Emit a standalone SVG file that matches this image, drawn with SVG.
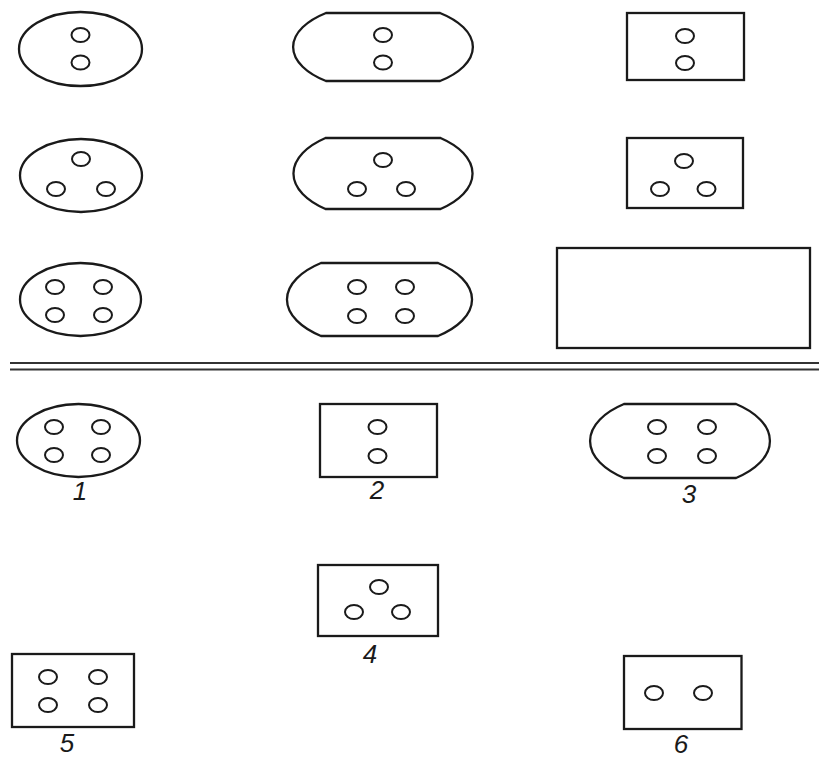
<svg xmlns="http://www.w3.org/2000/svg" width="819" height="758" viewBox="0 0 819 758">
<style>
.o{fill:none;stroke:#1a1a1a;stroke-width:2.3}
.h{fill:none;stroke:#1a1a1a;stroke-width:2}
.sep{stroke:#333;stroke-width:2}
.lbl{font-family:"Liberation Sans","DejaVu Sans",sans-serif;font-style:italic;font-size:26px;fill:#1a1a1a;text-anchor:middle}
</style>
<rect width="819" height="758" fill="#fff"/>
<defs>
<ellipse id="hole" class="h" cx="0" cy="0" rx="9" ry="7"/>
</defs>
<!-- Row 1 -->
<g id="r1-circle">
<ellipse class="o" cx="80.5" cy="49" rx="61.5" ry="37"/>
<use href="#hole" x="80.5" y="35"/>
<use href="#hole" x="80.5" y="62.5"/>
</g>
<g id="r1-oval">
<path class="o" d="M326,13 H440 A90,44 0 0 1 440,81 H326 A90,44 0 0 1 326,13 Z"/>
<use href="#hole" x="383" y="35"/>
<use href="#hole" x="383" y="62.5"/>
</g>
<g id="r1-square">
<rect class="o" x="627" y="13" width="117" height="67"/>
<use href="#hole" x="685" y="36"/>
<use href="#hole" x="685" y="63"/>
</g>
<!-- Row 2 -->
<g id="r2-circle">
<ellipse class="o" cx="81" cy="175.5" rx="61" ry="36.5"/>
<use href="#hole" x="81" y="159"/>
<use href="#hole" x="56" y="189"/>
<use href="#hole" x="106" y="189"/>
</g>
<g id="r2-oval">
<path class="o" d="M325.5,138 H440.5 A89.5,46.3 0 0 1 440.5,209 H325.5 A89.5,46.3 0 0 1 325.5,138 Z"/>
<use href="#hole" x="383" y="160"/>
<use href="#hole" x="357" y="189"/>
<use href="#hole" x="406" y="189"/>
</g>
<g id="r2-square">
<rect class="o" x="627" y="138" width="116" height="70"/>
<use href="#hole" x="684" y="161"/>
<use href="#hole" x="660" y="189"/>
<use href="#hole" x="706.5" y="189"/>
</g>
<!-- Row 3 -->
<g id="r3-circle">
<ellipse class="o" cx="80.5" cy="299.5" rx="60.5" ry="36.5"/>
<use href="#hole" x="55" y="287"/>
<use href="#hole" x="103" y="287"/>
<use href="#hole" x="55" y="315"/>
<use href="#hole" x="103" y="315"/>
</g>
<g id="r3-oval">
<path class="o" d="M321,263 H438 A92.5,47.1 0 0 1 438,336 H321 A92.5,47.1 0 0 1 321,263 Z"/>
<use href="#hole" x="357" y="287"/>
<use href="#hole" x="405" y="287"/>
<use href="#hole" x="357" y="316"/>
<use href="#hole" x="405" y="316"/>
</g>
<g id="r3-rect">
<rect class="o" x="557" y="248" width="253" height="100"/>
</g>
<!-- Separator -->
<g id="connectors">
<line class="sep" x1="10" y1="363" x2="819" y2="363"/>
<line class="sep" x1="10" y1="369.5" x2="819" y2="369.5"/>
</g>
<!-- Bottom part -->
<g id="n1">
<ellipse class="o" cx="78.5" cy="440.5" rx="61.5" ry="36.5"/>
<use href="#hole" x="54" y="427"/>
<use href="#hole" x="101" y="427"/>
<use href="#hole" x="54" y="455"/>
<use href="#hole" x="101" y="455"/>
<text class="lbl" x="80" y="500">1</text>
</g>
<g id="n2">
<rect class="o" x="320" y="404" width="117" height="73"/>
<use href="#hole" x="377.5" y="427"/>
<use href="#hole" x="377.5" y="456"/>
<text class="lbl" x="377" y="499">2</text>
</g>
<g id="n3">
<path class="o" d="M624,404 H736 A90,47.3 0 0 1 736,478 H624 A90,47.3 0 0 1 624,404 Z"/>
<use href="#hole" x="657" y="427"/>
<use href="#hole" x="707" y="427"/>
<use href="#hole" x="657" y="456"/>
<use href="#hole" x="707" y="456"/>
<text class="lbl" x="689" y="503">3</text>
</g>
<g id="n4">
<rect class="o" x="318" y="565" width="120" height="71"/>
<use href="#hole" x="379" y="587"/>
<use href="#hole" x="354" y="612"/>
<use href="#hole" x="401" y="612"/>
<text class="lbl" x="370" y="663">4</text>
</g>
<g id="n5">
<rect class="o" x="12" y="654" width="122" height="73"/>
<use href="#hole" x="48" y="677"/>
<use href="#hole" x="98" y="677"/>
<use href="#hole" x="48" y="705"/>
<use href="#hole" x="98" y="705"/>
<text class="lbl" x="67" y="752">5</text>
</g>
<g id="n6">
<rect class="o" x="624" y="656" width="117.5" height="73"/>
<use href="#hole" x="654" y="693"/>
<use href="#hole" x="703" y="693"/>
<text class="lbl" x="681" y="753">6</text>
</g>
</svg>
